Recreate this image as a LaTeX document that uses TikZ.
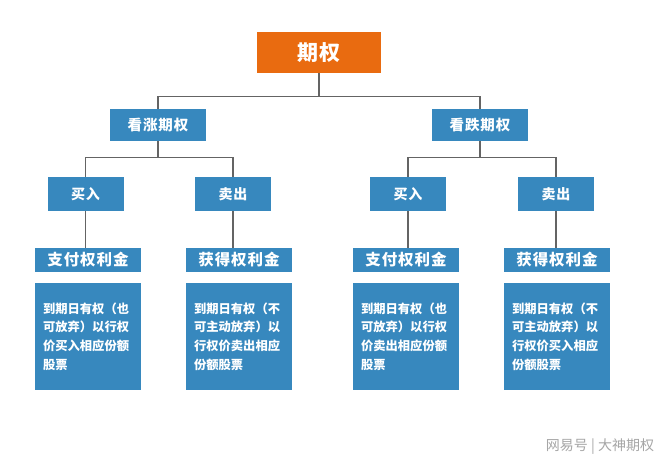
\documentclass[tikz,border=0pt]{standalone}
\usepackage{fontspec}
\usepackage{tikz}
\newfontfamily\cjk{Noto Sans CJK SC}[LetterSpace=6]
\newfontfamily\cjkplain{Noto Sans CJK SC}
\newfontfamily\cjklight{Noto Sans CJK SC}
\definecolor{carrot}{RGB}{233, 107, 16}
\definecolor{belize}{RGB}{55, 136, 190}
\definecolor{asbestos}{RGB}{100, 100, 100}

\tikzset{
    box/.style      = {fill=belize, text=white, inner sep=0pt, font=\cjk\bfseries},
    rootbox/.style  = {box, fill=carrot, minimum width=124pt, minimum height=41pt, font=\cjk\bfseries\fontsize{21}{24}\selectfont},
    kindbox/.style  = {box, minimum width=96pt, minimum height=32pt, font=\cjk\bfseries\fontsize{14.5}{17}\selectfont},
    actbox/.style   = {box, minimum width=76pt, minimum height=34pt, font=\cjk\bfseries\fontsize{14}{16}\selectfont},
    feebox/.style   = {box, minimum width=106pt, minimum height=24pt, font=\cjk\bfseries\fontsize{15.5}{18}\selectfont},
    notebox/.style  = {box, minimum width=106pt, minimum height=107pt, text width=90pt, align=left, font=\cjkplain\bfseries\fontsize{12.3}{18.6}\selectfont},
    link/.style     = {draw=asbestos, line width=1.1pt}
}

\begin{document}
\begin{tikzpicture}[x=1pt, y=-1pt]
        \useasboundingbox (0,0) rectangle (660,467);
        \fill[white] (0,0) rectangle (660,467);
        % root and the two kinds
        \node[rootbox] (root)     at (319.0, 52.5) {期权};
        \node[kindbox] (call)     at (158.0,125.0) {看涨期权};
        \node[kindbox] (put)      at (480.0,125.0) {看跌期权};
        % buy / sell
        \node[actbox]  (callbuy)  at ( 85.5,194.0) {买入};
        \node[actbox]  (callsell) at (233.0,194.0) {卖出};
        \node[actbox]  (putbuy)   at (408.0,194.0) {买入};
        \node[actbox]  (putsell)  at (556.0,194.0) {卖出};
        % premium
        \node[feebox]  (callbuyfee)  at ( 88.0,260.0) {支付权利金};
        \node[feebox]  (callsellfee) at (239.0,260.0) {获得权利金};
        \node[feebox]  (putbuyfee)   at (406.0,260.0) {支付权利金};
        \node[feebox]  (putsellfee)  at (557.0,260.0) {获得权利金};
        % notes
        \node[notebox] (callbuynote)  at ( 88.0,336.5) {到期日有权（也\\可放弃）以行权\\价买入相应份额\\股票};
        \node[notebox] (callsellnote) at (239.0,336.5) {到期日有权（不\\可主动放弃）以\\行权价卖出相应\\份额股票};
        \node[notebox] (putbuynote)   at (406.0,336.5) {到期日有权（也\\可放弃）以行权\\价卖出相应份额\\股票};
        \node[notebox] (putsellnote)  at (557.0,336.5) {到期日有权（不\\可主动放弃）以\\行权价买入相应\\份额股票};
        % links
        \draw[link] (root.south) -- ++(0,23.5) -| (call.north);
        \draw[link] (root.south) -- ++(0,23.5) -| (put.north);
        \draw[link] (call.south) -- ++(0,16) -| (callbuy.north);
        \draw[link] (call.south) -- ++(0,16) -| (callsell.north);
        \draw[link] (put.south)  -- ++(0,16) -| (putbuy.north);
        \draw[link] (put.south)  -- ++(0,16) -| (putsell.north);
        \draw[link] (callbuy.south)  -- (callbuy.south |- callbuyfee.north);
        \draw[link] (callsell.south) -- (callsell.south |- callsellfee.north);
        \draw[link] (putbuy.south)   -- (putbuy.south |- putbuyfee.north);
        \draw[link] (putsell.south)  -- (putsell.south |- putsellfee.north);
        % mark
        \node[text=black!35, font=\cjklight\fontsize{14}{16}\selectfont] (mark) at (600.0,447.0) {网易号 | 大神期权};
\end{tikzpicture}
\end{document}
